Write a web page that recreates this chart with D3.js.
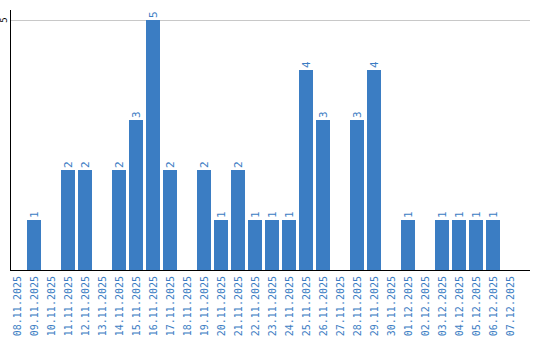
<!DOCTYPE html>
<html>
<head>
<meta charset="utf-8">
<script src="https://cdn.jsdelivr.net/npm/d3@7"></script>
<style>
  body { margin: 0; background: #fff; }
  svg { display: block; font-family: "DejaVu Sans Mono", monospace; }
</style>
</head>
<body>
<div id="chart"></div>
<script>
const dates = [
  "08.11.2025", "09.11.2025", "10.11.2025", "11.11.2025", "12.11.2025",
  "13.11.2025", "14.11.2025", "15.11.2025", "16.11.2025", "17.11.2025",
  "18.11.2025", "19.11.2025", "20.11.2025", "21.11.2025", "22.11.2025",
  "23.11.2025", "24.11.2025", "25.11.2025", "26.11.2025", "27.11.2025",
  "28.11.2025", "29.11.2025", "30.11.2025", "01.12.2025", "02.12.2025",
  "03.12.2025", "04.12.2025", "05.12.2025", "06.12.2025", "07.12.2025"
];
const counts = [0, 1, 0, 2, 2, 0, 2, 3, 5, 2, 0, 2, 1, 2, 1, 1, 1, 4, 3, 0, 3, 4, 0, 1, 0, 1, 1, 1, 1, 0];
const yTicks = [5];

const width = 540, height = 340;
const plotLeft = 10, plotRight = 530, plotTop = 20, base = 270;
const blue = "#3b7dc3";

const svg = d3.select("#chart").append("svg")
  .attr("width", width)
  .attr("height", height);

const x = d3.scaleBand()
  .domain(dates)
  .range([plotLeft, plotLeft + 17 * dates.length])
  .padding(0);

const y = d3.scaleLinear()
  .domain([0, 5])
  .range([base, plotTop]);

// grid line
svg.append("g")
  .selectAll("line")
  .data(yTicks)
  .join("line")
  .attr("x1", plotLeft)
  .attr("x2", plotRight)
  .attr("y1", d => y(d) + 0.5)
  .attr("y2", d => y(d) + 0.5)
  .attr("stroke", "#c8c8c8")
  .attr("stroke-width", 1);

// bars
const data = dates.map((d, i) => ({ date: d, value: counts[i] }));
const barW = x.bandwidth() - 3;

svg.append("g")
  .selectAll("rect")
  .data(data.filter(d => d.value > 0))
  .join("rect")
  .attr("x", d => x(d.date))
  .attr("y", d => y(d.value))
  .attr("width", barW)
  .attr("height", d => base - y(d.value))
  .attr("fill", blue);

// value labels
svg.append("g")
  .selectAll("text")
  .data(data.filter(d => d.value > 0))
  .join("text")
  .attr("transform", d => `translate(${x(d.date) + barW / 2 + 4},${y(d.value) - 2}) rotate(-90)`)
  .attr("fill", blue)
  .style("font-size", "11px")
  .text(d => d.value);

// y ticks
svg.append("g")
  .selectAll("text")
  .data(yTicks)
  .join("text")
  .attr("transform", d => `translate(7,${y(d)}) rotate(-90)`)
  .attr("text-anchor", "middle")
  .attr("fill", "#000")
  .style("font-size", "9px")
  .text(d => d);

// x labels
svg.append("g")
  .selectAll("text")
  .data(dates)
  .join("text")
  .attr("transform", d => `translate(${x(d) + barW / 2 + 4},${base + 6}) rotate(-90)`)
  .attr("text-anchor", "end")
  .attr("fill", blue)
  .style("font-size", "10px")
  .text(d => d);

// axes
svg.append("line")
  .attr("x1", plotLeft + 0.5).attr("x2", plotLeft + 0.5)
  .attr("y1", 10).attr("y2", base + 1)
  .attr("stroke", "#000").attr("stroke-width", 1);

svg.append("line")
  .attr("x1", plotLeft).attr("x2", plotRight)
  .attr("y1", base + 0.5).attr("y2", base + 0.5)
  .attr("stroke", "#000").attr("stroke-width", 1);
</script>
</body>
</html>
